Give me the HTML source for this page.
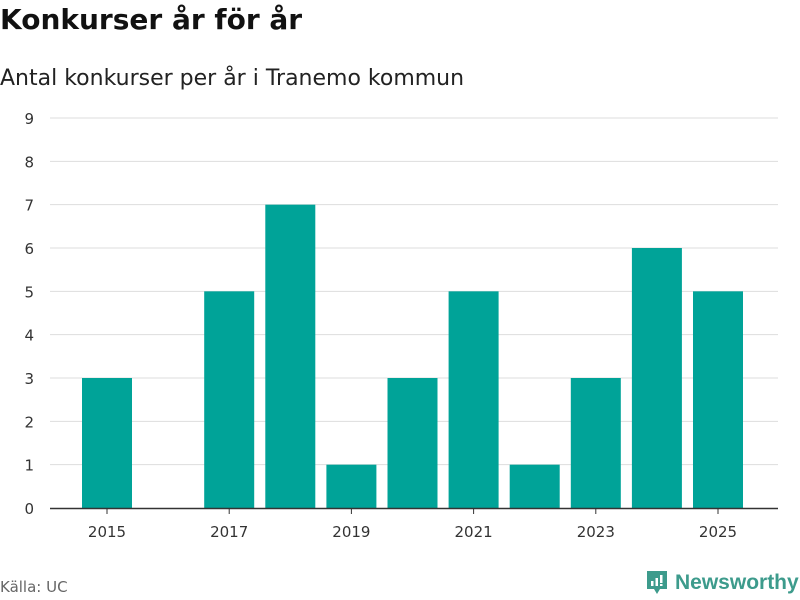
<!DOCTYPE html>
<html><head><meta charset="utf-8"><style>
body{margin:0;width:800px;height:600px;background:#fff;font-family:"DejaVu Sans","Liberation Sans",sans-serif;overflow:hidden;position:relative}
.t{position:absolute;left:0;top:3px;font-size:28px;font-weight:bold;color:#111}
.s{position:absolute;left:0;top:66px;font-size:22px;color:#222}
.src{position:absolute;left:0;top:578px;font-size:15px;color:#666}
.logo{position:absolute;left:645px;top:569px;display:flex;align-items:center;gap:6px;color:#3d9b8c;font-size:21px;font-weight:bold;font-family:"Liberation Sans",sans-serif}
</style></head><body>
<div class="t">Konkurser år för år</div>
<div class="s">Antal konkurser per år i Tranemo kommun</div>
<svg id="c" width="800" height="600" style="position:absolute;left:0;top:0"></svg>
<div class="src">Källa: UC</div>
<div class="logo">
<svg width="24" height="28" viewBox="0 0 24 28"><path d="M2 2h20v18h-7l-3 5-3-5H2z" fill="#3d9b8c"/><rect x="6" y="12" width="2.5" height="5" fill="#fff"/><rect x="10.5" y="9" width="2.5" height="8" fill="#fff"/><rect x="15" y="6" width="2.5" height="8" fill="#fff"/><rect x="15" y="15" width="2.5" height="2" fill="#fff"/></svg>
<span>Newsworthy</span></div>
<script>
const categories=["2015","2016","2017","2018","2019","2020","2021","2022","2023","2024","2025"];
const values=[3,0,5,7,1,3,5,1,3,6,5];
const yTicks=[0,1,2,3,4,5,6,7,8,9];
const xLabels=["2015","2017","2019","2021","2023","2025"];
const NS="http://www.w3.org/2000/svg",svg=document.getElementById('c');
const y=v=>508-v*(390/9);
const x=i=>107+i*61.1;
function mk(t,a){const e=document.createElementNS(NS,t);for(const k in a)e.setAttribute(k,a[k]);svg.appendChild(e);return e;}
yTicks.forEach(v=>{
 if(v>0){const g=mk('line',{x1:50,x2:778,y1:y(v),y2:y(v),stroke:'#ddd','stroke-width':1});
 
 }
 const t=mk('text',{x:34,y:y(v)+6,'text-anchor':'end','font-size':15,fill:'#333','font-family':'DejaVu Sans'});
 t.textContent=v;
 
 
});
values.forEach((v,i)=>{
 const r=mk('rect',{x:x(i)-25,y:y(v),width:50,height:508-y(v),fill:'#00a398'});
 
 
});
const ax=mk('line',{x1:50,x2:778,y1:508.5,y2:508.5,stroke:'#333','stroke-width':1.5});


xLabels.forEach(l=>{
 const i=categories.indexOf(l);
 const tk=mk('line',{x1:x(i),x2:x(i),y1:508,y2:514,stroke:'#333'});
 
 
 const t=mk('text',{x:x(i),y:537,'text-anchor':'middle','font-size':15,fill:'#333','font-family':'DejaVu Sans'});
 t.textContent=l;
 
 
});
</script>
</body></html>
